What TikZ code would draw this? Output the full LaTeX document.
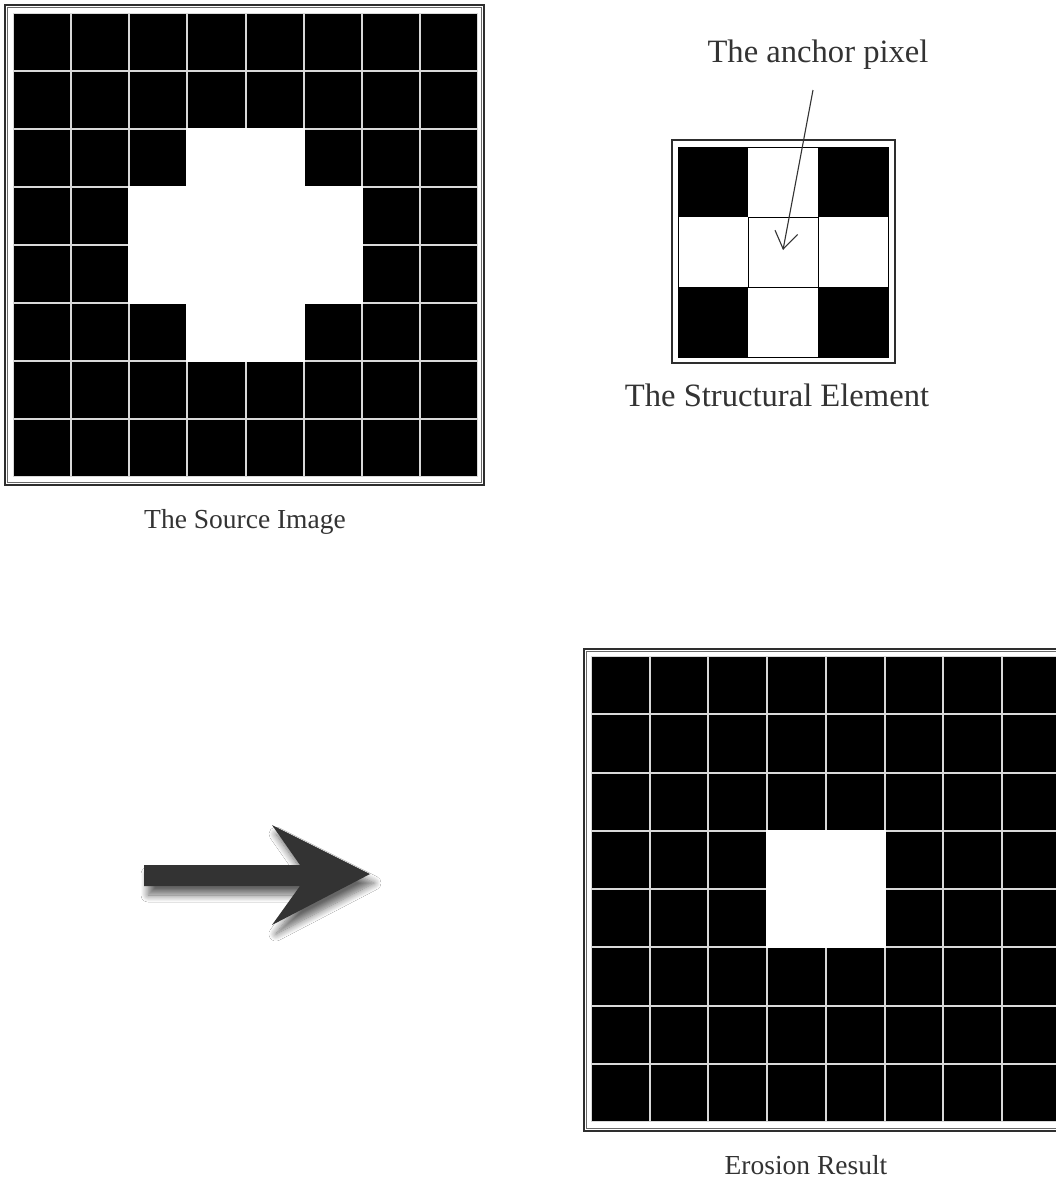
\documentclass[tikz,border=0pt]{standalone}
\usepackage{fontspec}
\setmainfont{Liberation Serif}
\usetikzlibrary{arrows.meta,shadows.blur}
\definecolor{txt}{HTML}{333333}
\definecolor{gapc}{HTML}{D8D8D8}
\definecolor{frm}{HTML}{2E2E2E}
\definecolor{frmin}{HTML}{6A6A6A}
\definecolor{arr}{HTML}{333333}
\tikzset{
  bigcap/.style={text=txt, font=\fontsize{32.6}{36}\selectfont, anchor=base, inner sep=0pt},
  smallcap/.style={text=txt, font=\fontsize{27.5}{31}\selectfont, anchor=base, inner sep=0pt},
  outerframe/.style={draw=frm, line width=1.4pt},
  innerframe/.style={draw=frmin, line width=0.8pt},
  pix/.style={fill=black},
  gap/.style={fill=gapc},
}
\begin{document}
\begin{tikzpicture}[x=1pt,y=-1pt]
\useasboundingbox (0,0) rectangle (1056,1181);
\clip (0,0) rectangle (1056,1181);
\fill[white] (0,0) rectangle (1056,1181);

% ---------------- Source image ----------------
\fill[gap] (13,13) rectangle (478,477);
\foreach \i in {0,...,7}{
  \foreach \j in {0,...,7}{
    \fill[pix] ({13+\i*58.125+1},{13+\j*58+1}) rectangle ({13+(\i+1)*58.125-1},{13+(\j+1)*58-1});
  }
}
\foreach \i/\j in {3/2,4/2,2/3,3/3,4/3,5/3,2/4,3/4,4/4,5/4,3/5,4/5}{
  \fill[white] ({13+\i*58.125-1},{13+\j*58-1}) rectangle ({13+(\i+1)*58.125+1},{13+(\j+1)*58+1});
}
\draw[outerframe] (5,5) rectangle (484,485);
\draw[innerframe] (7.8,7.8) rectangle (481.2,482.2);
\node[smallcap] (srclabel) at (245,528) {The Source Image};

% ---------------- Structural element ----------------
\foreach \i/\j in {0/0,2/0,0/2,2/2}{
  \fill[pix] ({678+\i*70},{147+\j*70}) rectangle ({678+(\i+1)*70},{147+(\j+1)*70});
}
\draw[black, line width=1pt] (678,147) rectangle (888,357);
\draw[black, line width=1pt] (748,217) rectangle (818,287);
\draw[draw=frm, line width=1.8pt] (672,140) rectangle (895,363);
\node[bigcap] (selabel) at (777,406) {The Structural Element};
\node[bigcap] (anchorlabel) at (818,62) {The anchor pixel};
\coordinate (anchortail) at (813,90);
\coordinate (anchorpix) at (783,250);
\draw[arr, line width=1.1pt, -{Straight Barb[length=17pt,width=23pt,line width=1.1pt]}] (anchortail) -- (anchorpix);

% ---------------- Big arrow ----------------
\path[fill=arr, blur shadow={shadow xshift=4pt, shadow yshift=-9pt, shadow blur radius=7pt, shadow blur steps=10, shadow opacity=60}]
  (144,865) -- (300,865) -- (272,825) -- (370,874) -- (272,925) -- (300,886) -- (144,886) -- cycle;

% ---------------- Erosion result ----------------
\fill[gap] (591,656) rectangle (1120,1122);
\foreach \i in {0,...,8}{
  \foreach \j in {0,...,7}{
    \fill[pix] ({591+\i*58.7+1},{656+\j*58.25+1}) rectangle ({591+(\i+1)*58.7-1},{656+(\j+1)*58.25-1});
  }
}
\foreach \i/\j in {3/3,4/3,3/4,4/4}{
  \fill[white] ({591+\i*58.7-1},{656+\j*58.25-1}) rectangle ({591+(\i+1)*58.7+1},{656+(\j+1)*58.25+1});
}
\draw[outerframe] (1120,649) -- (584,649) -- (584,1131) -- (1120,1131);
\draw[innerframe] (1120,651.8) -- (586.8,651.8) -- (586.8,1128.2) -- (1120,1128.2);
\node[smallcap] (erlabel) at (806,1174) {Erosion Result};
\end{tikzpicture}
\end{document}
